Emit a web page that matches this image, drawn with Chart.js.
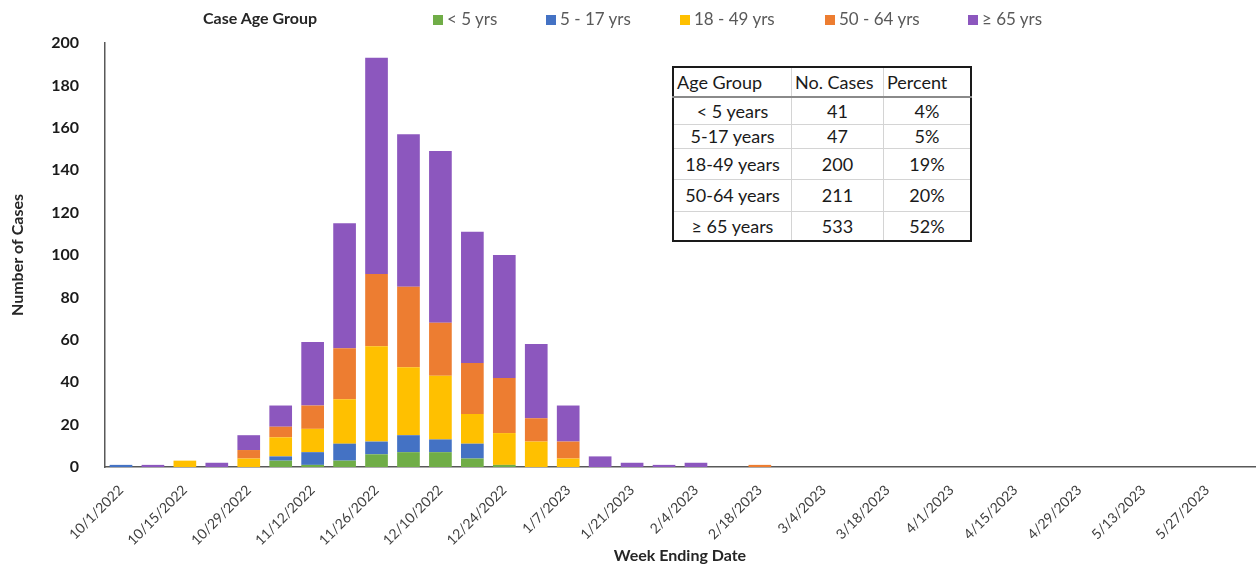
<!DOCTYPE html>
<html>
<head>
<meta charset="utf-8">
<script src="https://cdn.jsdelivr.net/npm/chart.js@4.4.1/dist/chart.umd.min.js"></script>
<style>
  body { margin: 0; background: #fff; font-family: Lato, sans-serif; }
  #wrap { position: relative; width: 1258px; height: 569px; }
  #legend { position: absolute; left: 0; top: 0; width: 1258px; height: 36px; }
  #legend .ttl { position: absolute; left: 203px; top: 8px; font-weight: bold; font-size: 16px; color: #262626; }
  #legend .item { position: absolute; top: 8px; font-size: 17px; color: #595959; white-space: nowrap; }
  #legend .box { display: inline-block; width: 10px; height: 10px; margin-right: 4px; }
  #ageTable { position: absolute; left: 672px; top: 66px; border-collapse: collapse; border: 2px solid #1a1a1a;
    font-size: 18px; color: #1a1a1a; background: #fff; }
  #ageTable td, #ageTable th { border: 1px solid #d4d4d4; padding: 0 3px; font-weight: normal; text-align: center; }
  #ageTable th { text-align: left; border-bottom: 2px solid #8a8a8a; }
</style>
</head>
<body>
<div id="wrap">
  <canvas id="caseChart" width="1258" height="569"></canvas>
  <div id="legend"></div>
  <table id="ageTable"></table>
</div>
<script>
// week ending dates (x categories)
const weeks = [
  '10/1/2022', '10/8/2022', '10/15/2022', '10/22/2022', '10/29/2022', '11/5/2022',
  '11/12/2022', '11/19/2022', '11/26/2022', '12/3/2022', '12/10/2022', '12/17/2022',
  '12/24/2022', '12/31/2022', '1/7/2023', '1/14/2023', '1/21/2023', '1/28/2023',
  '2/4/2023', '2/11/2023', '2/18/2023', '2/25/2023', '3/4/2023', '3/11/2023',
  '3/18/2023', '3/25/2023', '4/1/2023', '4/8/2023', '4/15/2023', '4/22/2023',
  '4/29/2023', '5/6/2023', '5/13/2023', '5/20/2023', '5/27/2023', '6/3/2023'
];

// cases per week by age group
const under5   = [0,0,0,0,0,3, 1,3,6,7,7,4, 1,0,0,0,0,0, 0,0,0,0,0,0, 0,0,0,0,0,0, 0,0,0,0,0,0];
const age5to17 = [1,0,0,0,0,2, 6,8,6,8,6,7, 0,0,0,0,0,0, 0,0,0,0,0,0, 0,0,0,0,0,0, 0,0,0,0,0,0];
const age18to49 = [0,0,3,0,4,9, 11,21,45,32,30,14, 15,12,4,0,0,0, 0,0,0,0,0,0, 0,0,0,0,0,0, 0,0,0,0,0,0];
const age50to64 = [0,0,0,0,4,5, 11,24,34,38,25,24, 26,11,8,0,0,0, 0,0,1,0,0,0, 0,0,0,0,0,0, 0,0,0,0,0,0];
const age65plus = [0,1,0,2,7,10, 30,59,102,72,81,62, 58,35,17,5,2,1, 2,0,0,0,0,0, 0,0,0,0,0,0, 0,0,0,0,0,0];

const legendNames = ['< 5 yrs', '5 - 17 yrs', '18 - 49 yrs', '50 - 64 yrs', '\u2265 65 yrs'];
const colors = ['#70ad47', '#4472c4', '#ffc000', '#ed7d31', '#8c57be'];
const yTicks = [0, 20, 40, 60, 80, 100, 120, 140, 160, 180, 200];

// summary table
const ageGroups = ['< 5 years', '5-17 years', '18-49 years', '50-64 years', '\u2265 65 years'];
const caseCounts = [41, 47, 200, 211, 533];
const percents = ['4%', '5%', '19%', '20%', '52%'];

const seriesData = [under5, age5to17, age18to49, age50to64, age65plus];

// legend (html so the title can sit inline)
const legendEl = document.getElementById('legend');
legendEl.innerHTML = '<span class="ttl">Case Age Group</span>';
const legendLeft = [433, 546, 680, 825, 968];
legendNames.forEach((name, i) => {
  const span = document.createElement('span');
  span.className = 'item';
  span.style.left = legendLeft[i] + 'px';
  span.innerHTML = '<span class="box" style="background:' + colors[i] + '"></span>';
  span.appendChild(document.createTextNode(name));
  legendEl.appendChild(span);
});

// table
const colW = [118, 92, 87];
const rowH = [30, 27, 24, 31, 32, 30];
const tbl = document.getElementById('ageTable');
let html = '<tr style="height:' + rowH[0] + 'px"><th style="width:' + (colW[0] - 7) + 'px">Age Group</th>' +
  '<th style="width:' + (colW[1] - 7) + 'px">No. Cases</th><th style="width:' + (colW[2] - 7) + 'px">Percent</th></tr>';
ageGroups.forEach((g, i) => {
  html += '<tr style="height:' + rowH[i + 1] + 'px"><td>' + g + '</td><td>' + caseCounts[i] + '</td><td>' + percents[i] + '</td></tr>';
});
tbl.innerHTML = html;

Chart.defaults.font.family = 'Lato, sans-serif';

const ctx = document.getElementById('caseChart').getContext('2d');
new Chart(ctx, {
  type: 'bar',
  data: {
    labels: weeks,
    datasets: seriesData.map((d, i) => ({
      label: legendNames[i],
      data: d,
      backgroundColor: colors[i],
      borderWidth: 0,
      barPercentage: 0.71,
      categoryPercentage: 1.0
    }))
  },
  options: {
    responsive: false,
    devicePixelRatio: 1,
    animation: false,
    layout: { padding: { top: 43, right: 3, left: 0, bottom: 0 } },
    plugins: {
      legend: { display: false },
      tooltip: { enabled: false }
    },
    scales: {
      x: {
        stacked: true,
        grid: { display: false },
        border: { color: '#595959', width: 1.5 },
        ticks: {
          autoSkip: false,
          minRotation: 45,
          maxRotation: 45,
          padding: 7,
          color: '#404040',
          font: { size: 14 },
          callback: (v, i) => (i % 2 === 0 ? weeks[i] : '')
        },
        title: {
          display: true,
          text: 'Week Ending Date',
          color: '#262626',
          font: { size: 16, weight: 'bold' },
          padding: { top: 0, bottom: 4 }
        },
        afterFit: s => { s.height = 102; }
      },
      y: {
        stacked: true,
        min: 0,
        max: 200,
        grid: { display: false },
        border: { color: '#595959', width: 1.5 },
        afterBuildTicks: s => { s.ticks = yTicks.map(v => ({ value: v })); },
        ticks: {
          padding: 18,
          color: '#1a1a1a',
          font: { size: 16, weight: 'bold' }
        },
        title: {
          display: true,
          text: 'Number of Cases',
          color: '#262626',
          font: { size: 16, weight: 'bold' },
          padding: { top: 8, bottom: 0 }
        },
        afterFit: s => { s.width = 105; }
      }
    }
  }
});
</script>
</body>
</html>
